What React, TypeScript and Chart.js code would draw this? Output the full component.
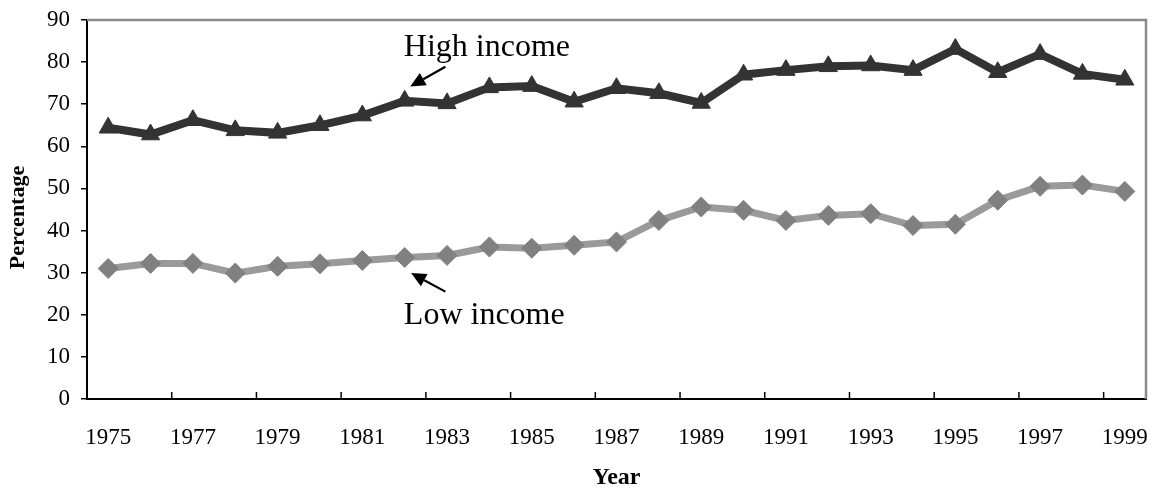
import React, { useEffect, useRef } from "react";
import { Chart, registerables } from "chart.js";

Chart.register(...registerables);

const years = [
  "1975", "1976", "1977", "1978", "1979", "1980", "1981", "1982", "1983", "1984",
  "1985", "1986", "1987", "1988", "1989", "1990", "1991", "1992", "1993", "1994",
  "1995", "1996", "1997", "1998", "1999",
];

const highIncome = [
  64.4, 62.8, 66.2, 63.8, 63.2, 65.0, 67.3, 70.8, 70.2, 74.0,
  74.3, 70.6, 73.8, 72.6, 70.3, 77.0, 78.1, 79.0, 79.2, 78.1,
  83.1, 77.6, 81.9, 77.2, 75.8,
];

const lowIncome = [
  31.0, 32.2, 32.2, 29.9, 31.5, 32.1, 32.9, 33.6, 34.1, 36.1,
  35.8, 36.5, 37.3, 42.4, 45.6, 44.8, 42.4, 43.6, 44.0, 41.2,
  41.5, 47.2, 50.5, 50.8, 49.3,
];

const yTicks = [0, 10, 20, 30, 40, 50, 60, 70, 80, 90];

const xTitle = "Year";
const yTitle = "Percentage";

const SERIF = "'Liberation Serif', 'Times New Roman', serif";

const annotationPlugin = {
  id: "annotations",
  beforeDatasetsDraw(chart: any) {
    const { ctx, chartArea } = chart;
    const x = chart.scales.x;
    ctx.save();
    ctx.strokeStyle = "#8a8a8a";
    ctx.lineWidth = 2.5;
    ctx.beginPath();
    ctx.moveTo(chartArea.left, chartArea.top);
    ctx.lineTo(chartArea.right, chartArea.top);
    ctx.lineTo(chartArea.right, chartArea.bottom);
    ctx.stroke();
    ctx.strokeStyle = "#000";
    ctx.lineWidth = 1.5;
    for (let i = 2; i < years.length; i += 2) {
      const px = (x.getPixelForValue(i - 1) + x.getPixelForValue(i)) / 2;
      ctx.beginPath();
      ctx.moveTo(px, chartArea.bottom);
      ctx.lineTo(px, chartArea.bottom - 7);
      ctx.stroke();
    }
    ctx.restore();
  },
  afterDraw(chart: any) {
    const { ctx, chartArea } = chart;
    const x = chart.scales.x;
    const y = chart.scales.y;
    ctx.save();
    ctx.fillStyle = "#000";
    ctx.font = `bold 22px ${SERIF}`;
    ctx.textAlign = "center";
    ctx.textBaseline = "middle";
    ctx.save();
    ctx.translate(18.5, (chartArea.top + chartArea.bottom) / 2 + 8);
    ctx.rotate(-Math.PI / 2);
    ctx.fillText(yTitle, 0, 0);
    ctx.restore();

    ctx.font = `32px ${SERIF}`;
    ctx.textAlign = "left";
    ctx.textBaseline = "alphabetic";
    const labels = [
      { text: "High income", xi: 6.98, yv: 81.4, tail: [7.96, 78.9], tip: [7.13, 74.2] },
      { text: "Low income", xi: 6.98, yv: 17.7, tail: [7.96, 25.5], tip: [7.15, 29.9] },
    ];
    for (const a of labels) {
      ctx.fillText(a.text, x.getPixelForValue(a.xi), y.getPixelForValue(a.yv));
      const x1 = x.getPixelForValue(a.tail[0]);
      const y1 = y.getPixelForValue(a.tail[1]);
      const x2 = x.getPixelForValue(a.tip[0]);
      const y2 = y.getPixelForValue(a.tip[1]);
      const ang = Math.atan2(y2 - y1, x2 - x1);
      const headLen = 15;
      const headW = 7;
      const bx = x2 - Math.cos(ang) * headLen;
      const by = y2 - Math.sin(ang) * headLen;
      ctx.strokeStyle = "#000";
      ctx.lineWidth = 2.2;
      ctx.beginPath();
      ctx.moveTo(x1, y1);
      ctx.lineTo(bx, by);
      ctx.stroke();
      ctx.beginPath();
      ctx.moveTo(x2, y2);
      ctx.lineTo(bx + Math.sin(ang) * headW, by - Math.cos(ang) * headW);
      ctx.lineTo(bx - Math.sin(ang) * headW, by + Math.cos(ang) * headW);
      ctx.closePath();
      ctx.fill();
    }
    ctx.restore();
  },
};

export default function App() {
  const canvasRef = useRef<HTMLCanvasElement | null>(null);

  useEffect(() => {
    if (!canvasRef.current) return;
    const chart = new Chart(canvasRef.current, {
      type: "line",
      data: {
        labels: years,
        datasets: [
          {
            label: "Low income",
            data: lowIncome,
            borderColor: "#9a9a9a",
            borderWidth: 7,
            pointStyle: "rectRot",
            pointRadius: 10,
            pointBackgroundColor: "#808080",
            pointBorderColor: "#808080",
            pointBorderWidth: 1,
            tension: 0,
          },
          {
            label: "High income",
            data: highIncome,
            borderColor: "#333333",
            borderWidth: 8,
            pointStyle: "triangle",
            pointRadius: 10.5,
            pointBackgroundColor: "#333333",
            pointBorderColor: "#333333",
            pointBorderWidth: 1,
            tension: 0,
          },
        ],
      },
      options: {
        animation: false,
        responsive: false,
        layout: { autoPadding: false, padding: { left: 0, right: 5, top: 20, bottom: 0 } },
        plugins: {
          legend: { display: false },
          tooltip: { enabled: false },
        },
        scales: {
          x: {
            type: "category",
            offset: true,
            afterFit: (scale: any) => {
              scale.height = 93;
              scale.paddingLeft = 0;
              scale.paddingRight = 0;
            },
            grid: {
              display: true,
              drawOnChartArea: false,
              drawTicks: true,
              tickLength: 25,
              color: "rgba(0,0,0,0)",
            },
            border: { display: true, color: "#000", width: 2 },
            ticks: {
              autoSkip: false,
              maxRotation: 0,
              padding: 0,
              color: "#000",
              font: { family: SERIF, size: 23 },
              callback: (_v: any, i: number) => (i % 2 === 0 ? years[i] : null),
            },
            title: {
              display: true,
              text: xTitle,
              color: "#000",
              font: { family: SERIF, size: 24, weight: "bold" },
              padding: { top: 0, bottom: 0 },
            },
          },
          y: {
            min: 0,
            max: 90,
            afterFit: (scale: any) => {
              scale.width = 87;
              scale.paddingTop = 0;
              scale.paddingBottom = 0;
            },
            afterBuildTicks: (scale: any) => {
              scale.ticks = yTicks.map((v) => ({ value: v }));
            },
            grid: {
              drawOnChartArea: false,
              drawTicks: true,
              tickLength: 6,
              color: "#000",
              lineWidth: 1.5,
            },
            border: { display: true, color: "#000", width: 2 },
            ticks: {
              padding: 11,
              color: "#000",
              font: { family: SERIF, size: 23 },
            },
            title: { display: false },
          },
        },
      },
      plugins: [annotationPlugin],
    });
    return () => chart.destroy();
  }, []);

  return (
    <div style={{ position: "fixed", left: 0, top: 0, width: 1151, height: 492, background: "#fff" }}>
      <canvas ref={canvasRef} width={1151} height={492} style={{ display: "block" }} />
    </div>
  );
}
